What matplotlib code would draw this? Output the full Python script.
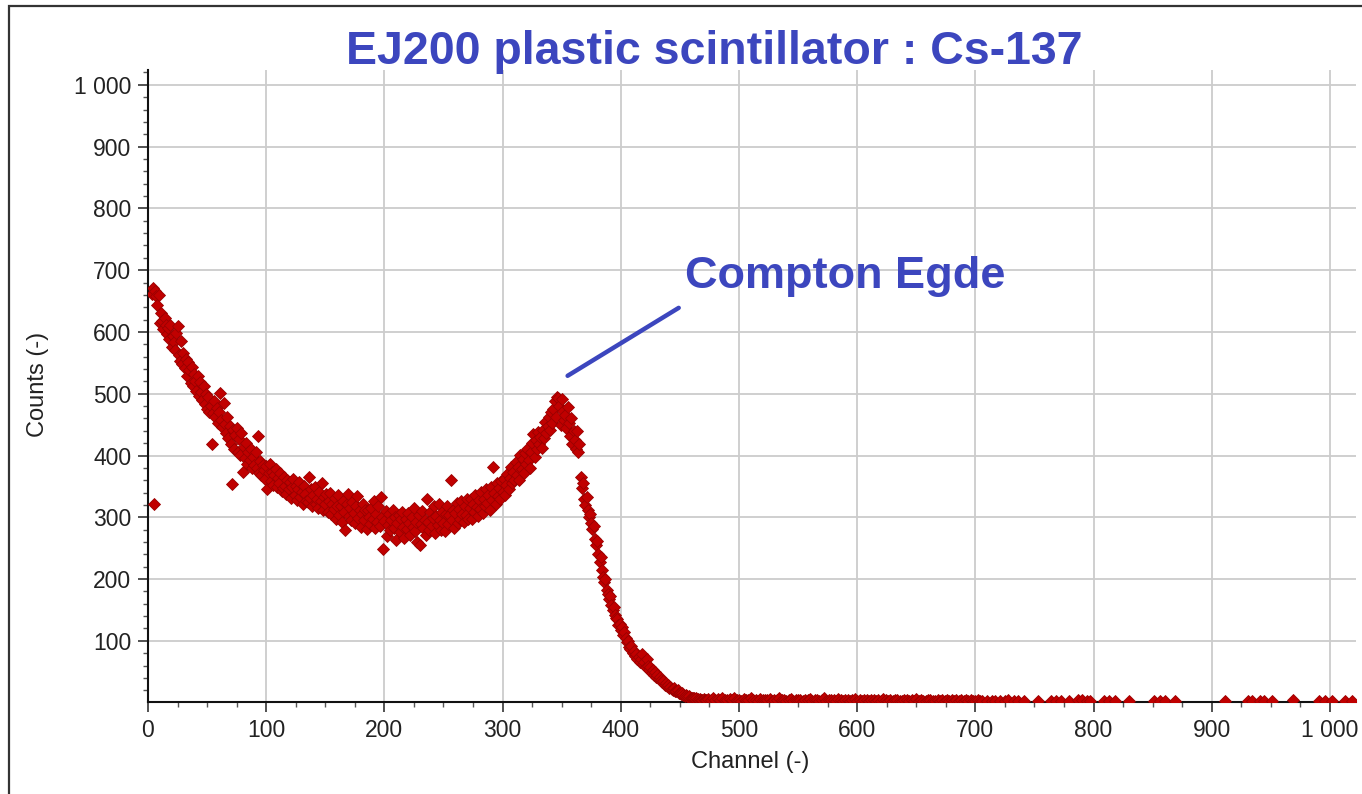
import matplotlib
matplotlib.use("Agg")
import matplotlib.pyplot as plt
from matplotlib.ticker import MultipleLocator, FuncFormatter
from matplotlib.patches import Rectangle

# ---------------- data ----------------
main_first_channel = 3
main_counts = [
    662, 671, 322, 667, 658, 643, 660, 614, 630, 618,
    604, 622, 611, 596, 607, 588, 612, 575, 593, 583,
    570, 598, 610, 562, 553, 586, 548, 566, 541, 557,
    529, 552, 538, 517, 544, 513, 532, 521, 505, 528,
    497, 519, 503, 490, 512, 484, 500, 476, 494, 471,
    480, 418, 469, 488, 462, 477, 452, 470, 501, 458,
    446, 485, 451, 437, 462, 428, 447, 419, 354, 441,
    411, 433, 445, 405, 426, 401, 437, 374, 413, 396,
    421, 387, 405, 392, 410, 379, 398, 385, 406, 379,
    431, 372, 391, 368, 385, 377, 362, 383, 345, 371,
    387, 359, 374, 352, 368, 378, 349, 363, 356, 371,
    342, 347, 365, 351, 338, 360, 345, 357, 331, 349,
    362, 336, 350, 328, 345, 357, 333, 341, 322, 350,
    338, 327, 325, 366, 331, 345, 318, 336, 349, 322,
    330, 315, 341, 327, 356, 312, 333, 321, 338, 309,
    326, 340, 305, 322, 314, 331, 298, 319, 336, 304,
    318, 293, 327, 309, 280, 321, 338, 302, 315, 296,
    325, 307, 290, 318, 334, 299, 312, 284, 305, 322,
    296, 311, 281, 312, 300, 289, 315, 297, 326, 283,
    305, 292, 318, 286, 333, 301, 249, 294, 310, 270,
    288, 306, 279, 295, 312, 283, 300, 263, 291, 304,
    276, 297, 309, 285, 266, 298, 281, 307, 290, 272,
    301, 285, 315, 278, 292, 260, 303, 255, 289, 310,
    282, 296, 271, 330, 293, 279, 308, 286, 299, 318,
    275, 302, 288, 321, 296, 280, 309, 291, 277, 305,
    318, 289, 303, 361, 296, 312, 282, 307, 323, 291,
    314, 298, 327, 305, 292, 318, 303, 330, 297, 315,
    330, 298, 322, 309, 336, 316, 302, 328, 313, 341,
    307, 330, 318, 345, 323, 336, 312, 349, 328, 382,
    340, 322, 355, 334, 348, 329, 358, 341, 362, 336,
    352, 370, 345, 363, 381, 356, 374, 360, 389, 368,
    382, 361, 401, 378, 395, 372, 404, 386, 410, 392,
    379, 405, 420, 434, 398, 425, 411, 438, 418, 430,
    412, 442, 428, 455, 436, 448, 462, 441, 470, 452,
    475, 488, 463, 495, 493, 480, 450, 491, 472, 458,
    466, 445, 478, 452, 432, 460, 418, 440, 425, 410,
    439, 406, 418, 366, 347, 355, 330, 320, 333, 312,
    300, 306, 290, 281, 286, 265, 255, 262, 240, 228,
    235, 215, 204, 195, 200, 182, 176, 167, 172, 158,
    150, 155, 142, 137, 135, 126, 128, 118, 122, 110,
    114, 104, 98, 100, 90, 86, 92, 81, 84, 76,
    79, 71, 74, 66, 70, 78, 63, 65, 58, 70,
    60, 53, 57, 48, 52, 45, 49, 41, 44, 38,
    42, 37, 33, 35, 29, 31, 27, 29, 24, 26,
    22, 21, 23, 19, 18, 21, 16, 15, 14, 16,
    12, 11, 13, 10, 9, 10, 8, 8, 7, 8,
    6, 7, 6, 5, 6, 5, 5, 6, 5, 4,
]

tail_first_channel = 474
tail_step = 2
tail_counts = [
    6, 5, 7, 4, 6, 5, 8, 4, 5, 6, 4, 7, 5, 5, 3, 6, 4, 5, 7, 4,
    5, 3, 6, 4, 5, 4, 6, 3, 5, 4, 7, 4, 5, 3, 4, 6, 3, 5, 4, 4,
    3, 5, 4, 6, 3, 4, 5, 3, 4, 7, 3, 4, 4, 5, 3, 6, 4, 3, 5, 4,
    3, 4, 6, 3, 4, 3, 5, 4, 3, 4, 5, 3, 4, 3, 6, 4, 3, 4, 3, 5,
    4, 3, 3, 5, 4, 3, 4, 3, 6, 3, 4, 3, 3, 4, 5, 3, 3, 4, 3, 4,
    3, 5, 3, 4, 3, 4, 3, 5, 3, 4, 3, 4, 3, 3, 4, 3,
]

sparse_channels = [706, 710, 714, 717, 721, 725, 728, 733, 736, 741,
                   753, 764, 768, 772, 779, 787, 790, 794, 797, 809,
                   813, 818, 830, 851, 856, 860, 869, 911, 931, 934,
                   941, 944, 951, 969, 991, 996, 1002, 1013, 1019]
sparse_counts = [3, 2, 3, 2, 3, 2, 4, 3, 2, 2,
                 2, 2, 3, 2, 2, 4, 4, 3, 2, 3,
                 3, 2, 2, 2, 3, 3, 2, 2, 2, 3,
                 3, 2, 2, 4, 2, 3, 2, 3, 2]

title_text = "EJ200 plastic scintillator : Cs-137"
annotation_text = "Compton Egde"
x_label = "Channel (-)"
y_label = "Counts (-)"

# ---------------- assemble ----------------
main_channels = list(range(main_first_channel, main_first_channel + len(main_counts)))
tail_channels = list(range(tail_first_channel,
                           tail_first_channel + tail_step * len(tail_counts), tail_step))
channels = main_channels + tail_channels + sparse_channels
counts = main_counts + tail_counts + sparse_counts

W, H = 1362, 794
fig = plt.figure(figsize=(W / 100, H / 100), dpi=100)
fig.patch.set_facecolor("white")

ax = fig.add_axes([148 / W, 1 - 702 / H, (1356 - 148) / W, (702 - 70) / H])

blue = "#3c46be"
red = "#c00000"

ax.plot(channels, counts, linestyle="none", marker="D", markersize=6.2,
        markerfacecolor=red, markeredgecolor="#9a0000", markeredgewidth=0.6,
        zorder=3)

ax.set_xlim(0, 1022)
ax.set_ylim(1, 1024)

ax.xaxis.set_major_locator(MultipleLocator(100))
ax.xaxis.set_minor_locator(MultipleLocator(25))
ax.yaxis.set_major_locator(MultipleLocator(100))
ax.yaxis.set_minor_locator(MultipleLocator(20))

fmt = FuncFormatter(lambda v, p: f"{int(round(v)):,}".replace(",", " "))
ax.xaxis.set_major_formatter(fmt)
ax.yaxis.set_major_formatter(fmt)

ax.grid(True, which="major", color="#cccccc", linewidth=1.3, zorder=0)
ax.set_axisbelow(True)

for side in ("top", "right"):
    ax.spines[side].set_visible(False)
for side in ("left", "bottom"):
    ax.spines[side].set_color("#111111")
    ax.spines[side].set_linewidth(1.5)

tick_font = {"family": ["Liberation Sans", "DejaVu Sans"], "size": 16.5}
ax.tick_params(which="major", direction="out", length=7, width=1.2,
               color="#333333", pad=5, labelcolor="#222222")
ax.tick_params(which="minor", direction="out", length=3.5, width=1.0,
               color="#555555")
for lab in ax.get_xticklabels() + ax.get_yticklabels():
    lab.set_fontfamily(tick_font["family"])
    lab.set_fontsize(tick_font["size"])

# axis labels
fig.text(750 / W, 1 - 762 / H, x_label, ha="center", va="center",
         fontsize=17, color="#222222", family=["Liberation Sans", "DejaVu Sans"])
fig.text(38 / W, 1 - 384 / H, y_label, ha="center", va="center", rotation=90,
         fontsize=17, color="#222222", family=["Liberation Sans", "DejaVu Sans"])

# title
fig.text(714 / W, 1 - 64 / H, title_text, ha="center", va="baseline",
         fontsize=33.5, fontweight="bold", color=blue,
         family=["Liberation Sans", "DejaVu Sans"])

# annotation
ax.annotate("", xy=(355, 529), xytext=(449, 639),
            arrowprops=dict(arrowstyle="-", color=blue, linewidth=3.2,
                            shrinkA=0, shrinkB=0), zorder=4)
ax.text(454, 671, annotation_text, ha="left", va="baseline",
        fontsize=32.5, fontweight="bold", color=blue,
        family=["Liberation Sans", "DejaVu Sans"], zorder=4)

# outer frame (top and left edges visible in the reference)
fig.patches.append(Rectangle((9 / W, -0.2), 1.5, (1 - 6 / H) + 0.2,
                             transform=fig.transFigure, fill=False,
                             edgecolor="#333333", linewidth=1.6))

fig.savefig("out.png", dpi=100, facecolor="white")
